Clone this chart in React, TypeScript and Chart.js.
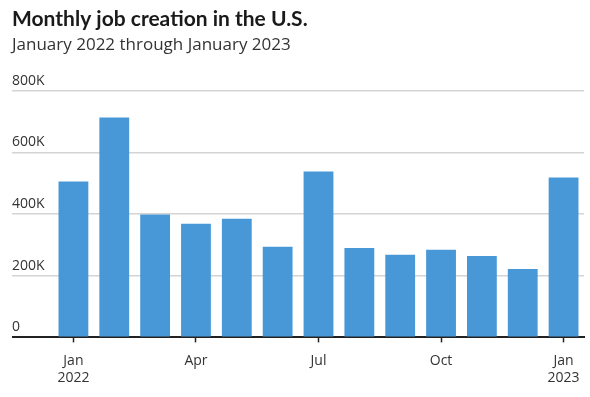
import React, { useEffect, useRef } from "react";
import { Chart, registerables } from "chart.js";

Chart.register(...registerables);

const months = ["Jan 2022", "Feb 2022", "Mar 2022", "Apr 2022", "May 2022", "Jun 2022", "Jul 2022", "Aug 2022", "Sep 2022", "Oct 2022", "Nov 2022", "Dec 2022", "Jan 2023"];
const jobs = [505000, 713000, 398000, 368000, 385000, 294000, 538000, 290000, 268000, 284000, 264000, 222000, 518000];
const xTickLabels: (string | string[])[] = [["Jan", "2022"], "", "", "Apr", "", "", "Jul", "", "", "Oct", "", "", ["Jan", "2023"]];
const yTickValues = [0, 200000, 400000, 600000, 800000];
const yTickLabels = ["0", "200K", "400K", "600K", "800K"];

const TITLE_FONT = "Lato, 'Open Sans', sans-serif";
const FONT = "'Open Sans', Lato, sans-serif";

export default function App() {
  const ref = useRef<HTMLCanvasElement | null>(null);
  useEffect(() => {
    document.body.style.margin = "0";
    const ctx = ref.current!;
    const chart = new Chart(ctx, {
      type: "bar",
      data: {
        labels: months,
        datasets: [
          {
            data: jobs,
            backgroundColor: "#4898d7",
            barPercentage: 0.73,
            categoryPercentage: 1,
          },
        ],
      },
      options: {
        animation: false,
        responsive: false,
        maintainAspectRatio: false,
        layout: { padding: { left: 12, right: 6, top: 0, bottom: 1 } },
        plugins: {
          legend: { display: false },
          tooltip: { enabled: false },
          title: {
            display: true,
            text: "Monthly job creation in the U.S.",
            align: "start",
            color: "#1a1a1a",
            font: { family: TITLE_FONT, size: 21, weight: "bold" },
            padding: { top: 7, bottom: 3 },
          },
          subtitle: {
            display: true,
            text: "January 2022 through January 2023",
            align: "start",
            color: "#333333",
            font: { family: FONT, size: 17, weight: "normal" },
            padding: { top: 0, bottom: 35 },
          },
        },
        scales: {
          x: {
            offset: true,
            grid: {
              offset: false,
              drawOnChartArea: false,
              drawTicks: true,
              tickLength: 5,
              tickWidth: 1.5,
              tickColor: (c: any) => (xTickLabels[c.index] !== "" ? "#222222" : "rgba(0,0,0,0)"),
            },
            border: { display: true, color: "#222222", width: 2 },
            ticks: {
              autoSkip: false,
              maxRotation: 0,
              color: "#333333",
              font: { family: FONT, size: 14 },
              padding: 10,
              callback: (_v: any, i: number) => xTickLabels[i],
            },
          },
          y: {
            min: 0,
            max: 800000,
            afterBuildTicks: (scale: any) => {
              scale.ticks = yTickValues.map((v) => ({ value: v }));
            },
            afterFit: (scale: any) => {
              scale.width = 41;
            },
            border: { display: false },
            grid: {
              color: (c: any) => (c.tick && c.tick.value === 0 ? "#222222" : "#d4d4d4"),
              lineWidth: (c: any) => (c.tick && c.tick.value === 0 ? 2 : 1.5),
              drawTicks: true,
              tickLength: 41,
            },
            ticks: {
              crossAlign: "far",
              labelOffset: -10,
              color: "#333333",
              font: { family: FONT, size: 14 },
              callback: (_v: any, i: number) => yTickLabels[i],
            },
          },
        },
      },
    });
    return () => chart.destroy();
  }, []);
  return (
    <div style={{ width: 590, height: 397 }}>
      <canvas ref={ref} width={590} height={397} style={{ display: "block" }} />
    </div>
  );
}
